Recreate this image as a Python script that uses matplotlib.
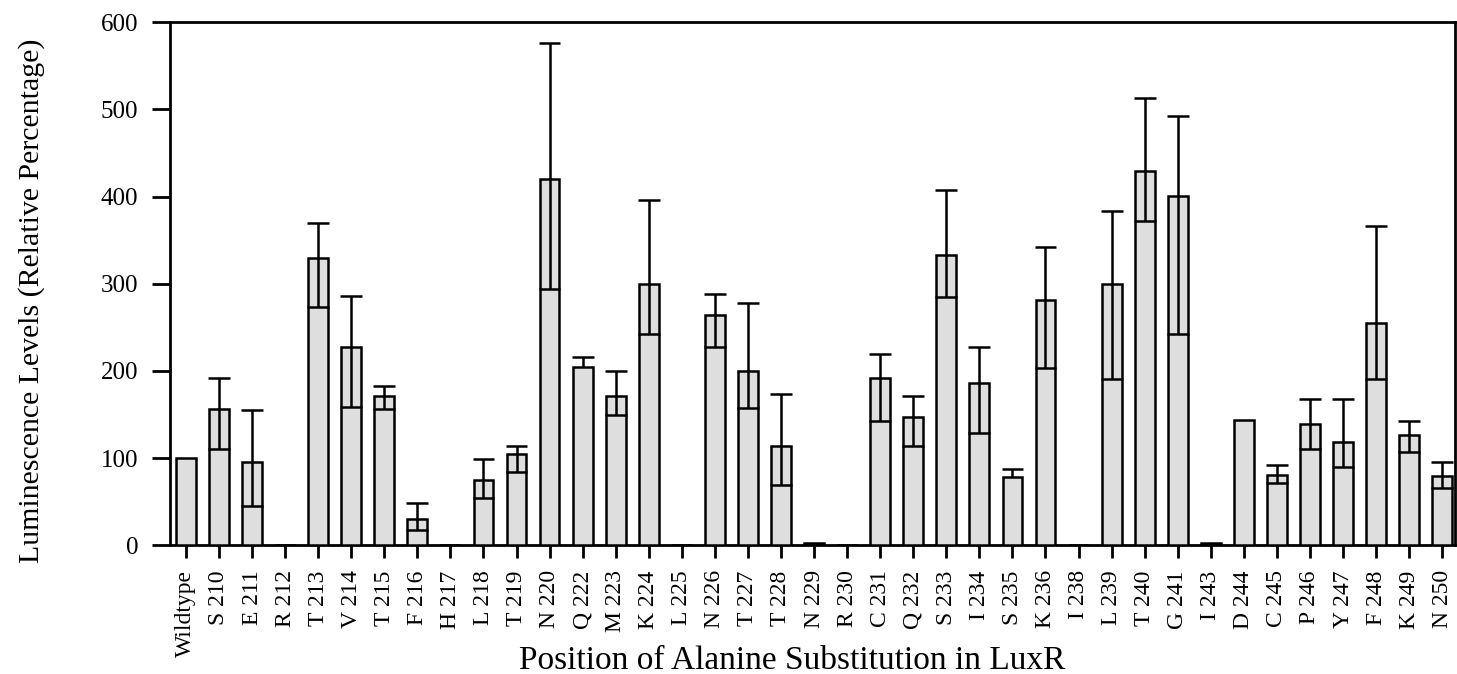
import numpy as np
import matplotlib.pyplot as plt

plt.rcParams['font.family'] = ['Liberation Serif', 'DejaVu Serif']

labels = ['Wildtype', 'S 210', 'E 211', 'R 212', 'T 213', 'V 214', 'T 215', 'F 216',
          'H 217', 'L 218', 'T 219', 'N 220', 'Q 222', 'M 223', 'K 224', 'L 225',
          'N 226', 'T 227', 'T 228', 'N 229', 'R 230', 'C 231', 'Q 232', 'S 233',
          'I 234', 'S 235', 'K 236', 'I 238', 'L 239', 'T 240', 'G 241', 'I 243',
          'D 244', 'C 245', 'P 246', 'Y 247', 'F 248', 'K 249', 'N 250']

# mean luminescence (relative %)
values = [100, 156, 96, 0, 330, 228, 171, 30,
          0, 75, 105, 420, 204, 171, 300, 0,
          264, 200, 114, 3, 0, 192, 147, 333,
          186, 78, 281, 0, 300, 429, 401, 3,
          144, 81, 139, 119, 255, 126, 80]

# top of error bar (nan = no error bar)
err_high = [np.nan, 192, 155, np.nan, 370, 286, 183, 48,
            np.nan, 99, 114, 576, 216, 200, 396, np.nan,
            288, 278, 173, np.nan, np.nan, 219, 171, 408,
            228, 87, 342, np.nan, 384, 513, 493, np.nan,
            np.nan, 92, 168, 168, 366, 143, 95]

# bottom of error bar (nan = not drawn)
err_low = [np.nan, 110, 45, np.nan, 273, 159, 156, 18,
           np.nan, 54, 84, 294, np.nan, 150, 242, np.nan,
           228, 158, 69, np.nan, np.nan, 143, 114, 285,
           129, np.nan, 203, np.nan, 191, 372, 242, np.nan,
           np.nan, 71, 110, 90, 191, 107, 66]

x = np.arange(len(labels))
values = np.array(values, dtype=float)
err_high = np.array(err_high, dtype=float)
err_low = np.array(err_low, dtype=float)

fig = plt.figure(figsize=(14.57, 6.74), dpi=100)
ax = fig.add_axes([0.1167, 0.191, 0.882, 0.776])

ax.bar(x, values, width=0.6, color='#dedede', edgecolor='black', linewidth=1.8, zorder=3)

lw = 1.8
has_err = ~np.isnan(err_high)
bottoms = np.where(np.isnan(err_low), values, err_low)
ax.vlines(x[has_err], bottoms[has_err], err_high[has_err], color='black', linewidth=lw, zorder=4)
ax.hlines(err_high[has_err], x[has_err] - 0.33, x[has_err] + 0.33, color='black', linewidth=lw, zorder=4)
has_low = ~np.isnan(err_low)
ax.hlines(err_low[has_low], x[has_low] - 0.33, x[has_low] + 0.33, color='black', linewidth=lw, zorder=4)

ax.set_xlim(-0.48, 38.39)
ax.set_ylim(0, 600)
ax.set_yticks(np.arange(0, 601, 100))
ax.set_xticks(x)
ax.set_xticklabels(labels, rotation=90, fontsize=17)
ax.tick_params(axis='y', direction='out', length=13, width=2, pad=10, labelsize=18)
ax.tick_params(axis='x', direction='out', length=9, width=2, pad=9)

for s in ax.spines.values():
    s.set_linewidth(2)

ax.set_xlabel('Position of Alanine Substitution in LuxR', fontsize=24)
ax.xaxis.set_label_coords(0.484, -0.192)
ax.set_ylabel('Luminescence Levels (Relative Percentage)', fontsize=21.5)
ax.yaxis.set_label_coords(-0.097, 0.467)

plt.savefig('out.png', dpi=100)
